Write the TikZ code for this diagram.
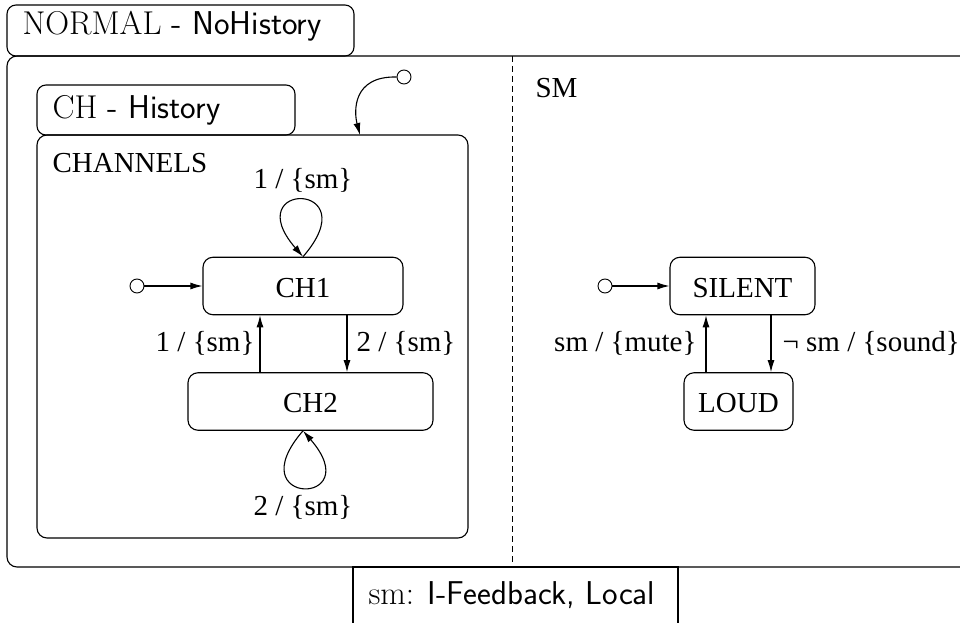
\documentclass[tikz,border=0pt]{standalone}
\usepackage{fontspec}
\newfontfamily\timesfont{Liberation Serif}
\newcommand\stFont{\timesfont\fontsize{29}{34}\selectfont}
\newcommand\lblFont{\fontsize{33}{38}\selectfont}
\usetikzlibrary{arrows.meta}

\begin{document}
\begin{tikzpicture}[x=1pt, y=-1pt, line width=1.1pt,
        stateBox/.style={draw, rounded corners=10pt, font=\stFont, text height=22pt, text depth=0pt, minimum height=57.5pt},
        initDot/.style={draw, circle, minimum size=14pt, inner sep=0pt, line width=0.9pt},
        trans/.style={-{Latex[length=12pt, width=7pt]}},
        transLbl/.style={font=\stFont, inner sep=6pt},
        boxLbl/.style={anchor=base west, inner sep=0pt, font=\lblFont}]
    \useasboundingbox (0,0) rectangle (960,623);
    \begin{scope}
        \clip (0,0) rectangle (960,623);
        \draw[rounded corners=10pt] (7,56) rectangle (990,567);
        \draw[rounded corners=9pt] (7,5) rectangle (354,56);
        \draw (353,567) rectangle (678,640);
        \draw[rounded corners=9pt] (37,85) rectangle (295,135);
        \draw[rounded corners=10pt] (37,135) rectangle (468,538);
        \draw[dash pattern=on 6pt off 4pt, line width=0.9pt] (512,56) -- (512,567);

        \node[boxLbl] (normalLbl) at (22,35) {NORMAL\textsf{ - NoHistory}};
        \node[boxLbl] (chLbl) at (52,118) {CH\textsf{ - History}};
        \node[boxLbl] (sigLbl) at (368,604) {sm:\textsf{ I-Feedback, Local}};
        \node[anchor=base west, inner sep=0pt, font=\stFont] (channelsLbl) at (52,172) {CHANNELS};
        \node[anchor=base west, inner sep=0pt, font=\stFont] (smLbl) at (535,98) {SM};

        \node[initDot] (histDot) at (404,77) {};
        \coordinate (histIn) at (360,135);
        \draw[trans] (histDot.west) .. controls (352,76) and (354,112) .. (histIn);

        \node[stateBox, minimum width=200pt] (ch1) at (303,286) {CH1};
        \node[stateBox, minimum width=245pt] (ch2) at (310.5,401.5) {CH2};
        \node[stateBox, minimum width=145pt] (silent) at (742.5,286) {SILENT};
        \node[stateBox, minimum width=109pt] (loud) at (738.5,401.5) {LOUD};
        \node[initDot] (initCh) at (137,286) {};
        \node[initDot] (initSm) at (605,286) {};

        \draw[trans] (initCh) -- (ch1);
        \draw[trans] (initSm) -- (silent);
        \draw[trans] (260,0 |- ch2.north) -- node[transLbl, left, inner sep=5pt] {1 / \{sm\}} (260,0 |- ch1.south);
        \draw[trans] (347,0 |- ch1.south) -- node[transLbl, right, inner sep=9pt] {2 / \{sm\}} (347,0 |- ch2.north);
        \draw[trans] (706,0 |- loud.north) -- node[transLbl, left, inner sep=9pt] {sm / \{mute\}} (706,0 |- silent.south);
        \draw[trans] (771,0 |- silent.south) -- node[transLbl, right, inner sep=11pt] {¬ sm / \{sound\}} (771,0 |- loud.north);
        \draw[trans] (303,0 |- ch1.north) .. controls +(66,-76) and +(-66,-76) .. (303,0 |- ch1.north)
            node[transLbl, pos=0.5, above, inner sep=7pt] {1 / \{sm\}};
        \draw[trans] (303,0 |- ch2.south) .. controls +(-66,76) and +(66,76) .. (303,0 |- ch2.south)
            node[transLbl, pos=0.5, below, inner sep=7pt] {2 / \{sm\}};
    \end{scope}
\end{tikzpicture}
\end{document}
